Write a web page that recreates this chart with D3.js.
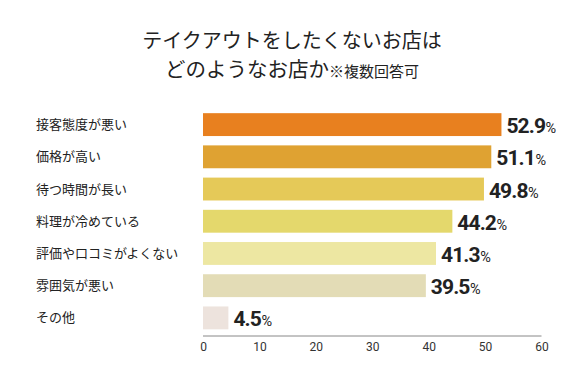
<!DOCTYPE html>
<html><head><meta charset="utf-8">
<script src="https://cdn.jsdelivr.net/npm/d3@7"></script>
<style>body{margin:0;background:#fff}svg{display:block}</style>
</head><body>
<svg id="c" width="584" height="387"></svg>
<script>
const categories = ["接客態度が悪い","価格が高い","待つ時間が長い","料理が冷めている","評価や口コミがよくない","雰囲気が悪い","その他"];
const values = [52.9,51.1,49.8,44.2,41.3,39.5,4.5];
const colors = ["#e8801f","#dfa232","#e5c958","#e4d86c","#ede7a2","#e3dcb6","#ede3dd"];
const ticks = [0,10,20,30,40,50,60];

const svg = d3.select("#c");
const x = d3.scaleLinear().domain([0,60]).range([203,541.5]);
const y = d3.scaleBand().domain(categories).range([108.5,334]).paddingInner(0.29).paddingOuter(0.145);

const jp = "'Noto Sans CJK JP', sans-serif";

svg.append("text").attr("x",292).attr("y",48).attr("text-anchor","middle").attr("font-family",jp)
  .attr("fill","#222").attr("font-size",20).text("テイクアウトをしたくないお店は");
const l2 = svg.append("text").attr("x",292).attr("y",77).attr("text-anchor","middle").attr("font-family",jp).attr("fill","#222");
l2.append("tspan").attr("font-size",20.5).text("どのようなお店か");
l2.append("tspan").attr("font-size",15).text("※複数回答可");

svg.selectAll("rect.bar").data(values).join("rect").attr("class","bar")
  .attr("x",x(0)).attr("y",(d,i)=>y(categories[i]))
  .attr("width",d=>x(d)-x(0)).attr("height",y.bandwidth())
  .attr("fill",(d,i)=>colors[i]);

svg.selectAll("text.cat").data(categories).join("text").attr("class","cat")
  .attr("x",36).attr("y",d=>y(d)+y.bandwidth()/2).attr("dy","0.35em")
  .attr("font-family",jp).attr("font-size",13).attr("fill","#222").text(d=>d);

const vl = svg.selectAll("text.val").data(values).join("text").attr("class","val")
  .attr("x",d=>x(d)+5).attr("y",(d,i)=>y(categories[i])+y.bandwidth()/2+8.5)
  .attr("font-family","Roboto, sans-serif").attr("fill","#222");
vl.append("tspan").attr("font-size",21).attr("font-weight",700).attr("letter-spacing",-0.9).text(d=>d.toFixed(1));
vl.append("tspan").attr("font-size",14.5).attr("font-weight",400).attr("dx",0.5).text("%");

const ax = svg.append("g").attr("transform","translate(0,336)")
  .call(d3.axisBottom(x).tickValues(ticks).tickSize(0).tickPadding(6));
ax.select(".domain").attr("stroke","#888").attr("d",`M${x(0)},0H${x(60)}`);
ax.selectAll("text").attr("font-family","Roboto, sans-serif").attr("font-size",12).attr("fill","#333");
</script>
</body></html>
